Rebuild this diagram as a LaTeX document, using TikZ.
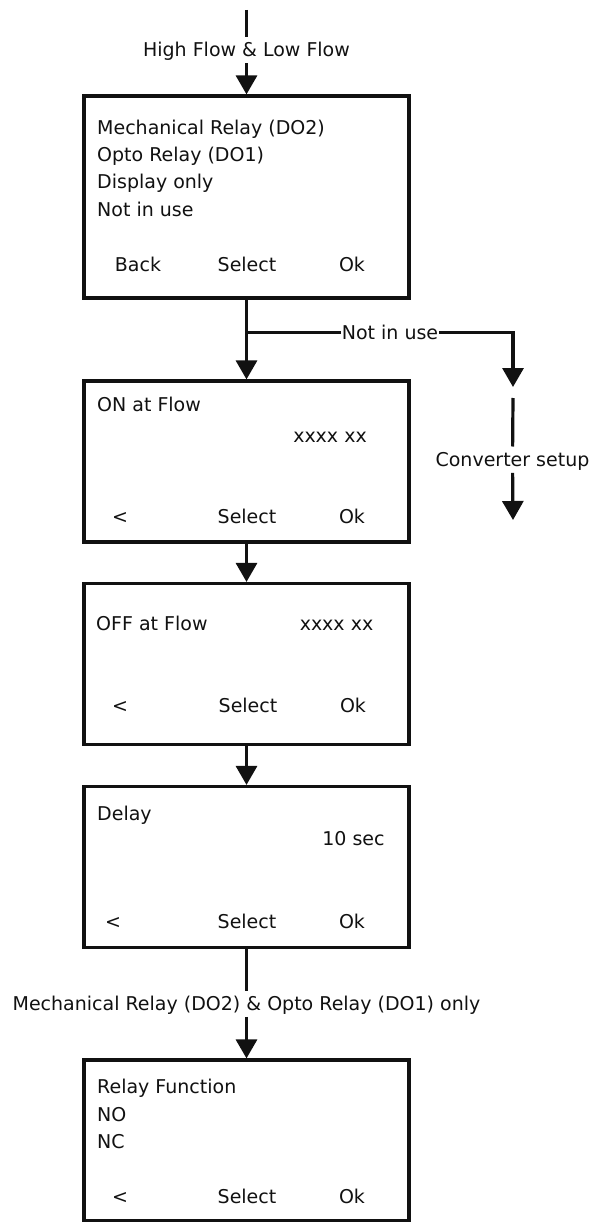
\documentclass[tikz,border=0pt]{standalone}
\usepackage{fontspec}
\setmainfont{DejaVu Sans}
\usetikzlibrary{arrows.meta,positioning}
\definecolor{Ink}{RGB}{17,17,17}
\tikzset{
  >={Triangle[length=19pt,width=21pt]},
  screen/.style={draw=Ink,line width=3.2pt,fill=white,minimum width=325pt,minimum height=161pt,inner sep=0pt},
  txt/.style={anchor=base west,inner sep=0pt,text=Ink,font=\fontsize{19pt}{23pt}\selectfont},
  softkey/.style={txt,anchor=base},
  lbl/.style={text=Ink,font=\fontsize{19pt}{23pt}\selectfont,text height=14pt,text depth=0pt,inner ysep=6pt,inner xsep=1pt},
  wire/.style={line width=3.2pt,draw=Ink},
  flow/.style={wire,->}
}
\begin{document}
\begin{tikzpicture}[x=1pt,y=-1pt]
  \useasboundingbox (0,0) rectangle (590,1222);
  % screens
  \node[screen,minimum height=202pt] (menu) at (246.5,197) {};
  \node[screen] (onflow) at (246.5,461.5) {};
  \node[screen] (offflow) at (246.5,664) {};
  \node[screen] (delay) at (246.5,867) {};
  \node[screen] (relfun) at (246.5,1140.5) {};
  % output type
  \node[txt] (m1) at (97,134.5) {Mechanical Relay (DO2)};
  \node[txt] (m2) at (97,161.7) {Opto Relay (DO1)};
  \node[txt] (m3) at (97,189) {Display only};
  \node[txt] (m4) at (97,216.7) {Not in use};
  \node[softkey] (mback) at (138,271.7) {Back};
  \node[softkey] (msel) at (247,271.7) {Select};
  \node[softkey] (mok) at (352,271.7) {Ok};
  % on at flow
  \node[txt] (on1) at (97,411.5) {ON at Flow};
  \node[softkey] (onval) at (330,442) {xxxx xx};
  \node[softkey] (onback) at (120,523) {<};
  \node[softkey] (onsel) at (247,523) {Select};
  \node[softkey] (onok) at (352,523) {Ok};
  % off at flow
  \node[txt] (off1) at (96,630) {OFF at Flow};
  \node[softkey] (offval) at (336.5,630) {xxxx xx};
  \node[softkey] (offback) at (120,712.7) {<};
  \node[softkey] (offsel) at (248,712.7) {Select};
  \node[softkey] (offok) at (353,712.7) {Ok};
  % delay
  \node[txt] (dl1) at (97,820) {Delay};
  \node[softkey] (dlval) at (353.5,845) {10 sec};
  \node[softkey] (dlback) at (113,928) {<};
  \node[softkey] (dlsel) at (247,928) {Select};
  \node[softkey] (dlok) at (352,928) {Ok};
  % relay function
  \node[txt] (rf1) at (97,1093) {Relay Function};
  \node[txt] (rf2) at (97,1121) {NO};
  \node[txt] (rf3) at (97,1148) {NC};
  \node[softkey] (rfback) at (120,1203) {<};
  \node[softkey] (rfsel) at (247,1203) {Select};
  \node[softkey] (rfok) at (352,1203) {Ok};
  % connectors
  \coordinate (entry) at (246.5,10);
  \node[lbl] (hilo) at (246.5,50) {High Flow \& Low Flow};
  \draw[wire] (entry) -- (hilo);
  \draw[flow] (hilo) -- (menu);
  \draw[flow] (menu) -- (onflow);
  \coordinate (split) at (246.5,332.5);
  \node[lbl] (nouse) at (390,332.5) {Not in use};
  \coordinate (convin) at (513,387);
  \draw[wire] (split) -- (nouse);
  \draw[flow] (nouse) -| (convin);
  \coordinate (convtop) at (513,398);
  \node[lbl] (conv) at (512.5,459.7) {Converter setup};
  \coordinate (convout) at (513,520);
  \draw[wire] (convtop) -- (conv);
  \draw[flow] (conv) -- (convout);
  \draw[flow] (onflow) -- (offflow);
  \draw[flow] (offflow) -- (delay);
  \node[lbl] (relonly) at (246.5,1003.7) {Mechanical Relay (DO2) \& Opto Relay (DO1) only};
  \draw[wire] (delay) -- (relonly);
  \draw[flow] (relonly) -- (relfun);
\end{tikzpicture}
\end{document}
